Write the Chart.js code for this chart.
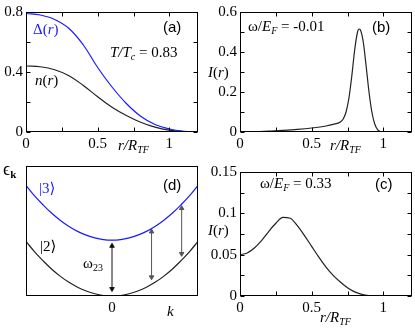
<!DOCTYPE html>
<html>
<head>
<meta charset="utf-8">
<script src="https://cdn.jsdelivr.net/npm/chart.js@4.4.1/dist/chart.umd.min.js"></script>
<style>
body { margin: 0; background: #fff; }
#fig { position: relative; width: 415px; height: 328px; overflow: hidden; }
#fig canvas { position: absolute; }
.t { position: absolute; font-family: "Liberation Serif", "Times New Roman", "DejaVu Serif", serif; font-size: 15px; color: #000; white-space: nowrap; line-height: 1; }
.i { font-style: italic; }
.s { font-family: "Liberation Sans", Arial, sans-serif; font-size: 15px; }
.blue { color: #1a1aff; }
sub { font-size: 10px; vertical-align: -3px; line-height: 0; }
</style>
</head>
<body>
<div id="fig">
  <canvas id="pa" width="208" height="160" style="left:0;top:0"></canvas>
  <canvas id="pb" width="210" height="160" style="left:205px;top:0"></canvas>
  <canvas id="pc" width="210" height="168" style="left:205px;top:160px"></canvas>
  <canvas id="pd" width="208" height="168" style="left:0;top:160px"></canvas>

  <!-- panel (a) -->
  <div class="t s" style="left:163px;top:19px">(a)</div>
  <div class="t blue" style="left:33px;top:22px">Δ(<span class="i">r</span>)</div>
  <div class="t i" style="left:110px;top:45px">T/T<sub>c</sub> <span style="font-style:normal">= 0.83</span></div>
  <div class="t" style="left:35px;top:73px"><span class="i">n</span>(<span class="i">r</span>)</div>
  <div class="t i" style="left:118px;top:138px">r/R<sub>TF</sub></div>

  <!-- panel (b) -->
  <div class="t" style="left:248px;top:19px">ω/<span class="i">E<sub>F</sub></span> = -0.01</div>
  <div class="t s" style="left:372px;top:19px">(b)</div>
  <div class="t" style="left:208px;top:65px"><span class="i">I</span>(<span class="i">r</span>)</div>
  <div class="t i" style="left:330px;top:138px">r/R<sub>TF</sub></div>

  <!-- panel (c) -->
  <div class="t" style="left:260px;top:176px">ω/<span class="i">E<sub>F</sub></span> = 0.33</div>
  <div class="t s" style="left:375px;top:176px">(c)</div>
  <div class="t" style="left:208px;top:223px"><span class="i">I</span>(<span class="i">r</span>)</div>
  <div class="t i" style="left:320px;top:310px">r/R<sub>TF</sub></div>

  <!-- panel (d) -->
  <div class="t" style="left:3px;top:160px;font-size:18px">ϵ<sub style="font-weight:bold;font-style:normal;font-size:11px">k</sub></div>
  <div class="t blue" style="left:39px;top:181px">|3⟩</div>
  <div class="t s" style="left:163px;top:177px">(d)</div>
  <div class="t" style="left:40px;top:239px">|2⟩</div>
  <div class="t" style="left:83px;top:256px">ω<sub>23</sub></div>
  <div class="t i" style="left:167px;top:304px">k</div>
</div>

<script>
// ---- data ----
// (a) gap and density profiles
const rA = [0, 0.1, 0.2, 0.3, 0.4, 0.5, 0.6, 0.7, 0.8, 0.9, 1.0, 1.1, 1.2];
const gapA = [0.79, 0.78, 0.75, 0.69, 0.58, 0.43, 0.30, 0.19, 0.105, 0.05, 0.02, 0.005, 0];
const densA = [0.44, 0.435, 0.415, 0.375, 0.31, 0.235, 0.165, 0.11, 0.065, 0.032, 0.012, 0.003, 0];

// (b) rf spectrum at w/EF = -0.01
const rB = [0, 0.1, 0.2, 0.3, 0.4, 0.5, 0.6, 0.65, 0.7, 0.72, 0.74, 0.76, 0.78, 0.8, 0.82, 0.83, 0.84, 0.86, 0.88, 0.9, 0.92, 0.94, 0.96, 0.98, 1.0, 1.2];
const intB = [0, 0.002, 0.004, 0.008, 0.013, 0.02, 0.03, 0.038, 0.05, 0.065, 0.1, 0.17, 0.28, 0.41, 0.5, 0.515, 0.51, 0.45, 0.33, 0.2, 0.1, 0.04, 0.012, 0.002, 0, 0];

// (c) rf spectrum at w/EF = 0.33
const rC = [0, 0.05, 0.1, 0.15, 0.2, 0.25, 0.3, 0.35, 0.4, 0.45, 0.5, 0.55, 0.6, 0.65, 0.7, 0.75, 0.8, 0.85, 0.9, 0.95, 1.0, 1.2];
const intC = [0.05, 0.052, 0.058, 0.067, 0.078, 0.088, 0.095, 0.094, 0.085, 0.073, 0.06, 0.047, 0.035, 0.025, 0.017, 0.01, 0.005, 0.002, 0.0005, 0, 0, 0];

// (d) band sketch
const kD = [-1, -0.9, -0.8, -0.7, -0.6, -0.5, -0.4, -0.3, -0.2, -0.1, 0, 0.1, 0.2, 0.3, 0.4, 0.5, 0.6, 0.7, 0.8, 0.9, 1];
const band2 = [0.42, 0.34, 0.27, 0.206, 0.151, 0.105, 0.067, 0.038, 0.017, 0.004, 0, 0.004, 0.017, 0.038, 0.067, 0.105, 0.151, 0.206, 0.27, 0.34, 0.42];
const band3 = [0.85, 0.77, 0.70, 0.636, 0.581, 0.535, 0.497, 0.468, 0.447, 0.434, 0.43, 0.434, 0.447, 0.468, 0.497, 0.535, 0.581, 0.636, 0.70, 0.77, 0.85];
const arrowK = [0, 0.46, 0.81];
const arrowLo = [0.055, 0.145, 0.325];
const arrowHi = [0.385, 0.495, 0.675];
const arrowCol = ['#111', '#555', '#555'];

// tick values
const xMajor = [0, 0.5, 1];
const xMinor = [0.25, 0.75];
const yTicksA = [0, 0.4, 0.8], yMinorA = [0.2, 0.6];
const yTicksB = [0, 0.2, 0.4, 0.6], yMinorB = [0.1, 0.3, 0.5];
const yTicksC = [0, 0.05, 0.1, 0.15], yMinorC = [0.025, 0.075, 0.125];

const BLUE = '#1a1aff';
const INK = '#222';

// frame + inward ticks on all four sides
const frameTicks = {
  id: 'frameTicks',
  afterDraw(chart, args, o) {
    const { ctx, chartArea: a, scales: { x, y } } = chart;
    const L = Math.round(a.left) + 0.5, R = Math.round(a.right) - 0.5;
    const T = Math.round(a.top) + 0.5, B = Math.round(a.bottom) - 0.5;
    ctx.save();
    ctx.strokeStyle = '#000';
    ctx.lineWidth = 1;
    ctx.beginPath();
    (o.xt || []).forEach(v => {
      const px = Math.round(x.getPixelForValue(v)) + 0.5;
      ctx.moveTo(px, B); ctx.lineTo(px, B - 4);
      ctx.moveTo(px, T); ctx.lineTo(px, T + 4);
    });
    (o.yt || []).forEach(v => {
      const py = Math.round(y.getPixelForValue(v)) + 0.5;
      ctx.moveTo(L, py); ctx.lineTo(L + 4, py);
      ctx.moveTo(R, py); ctx.lineTo(R - 4, py);
    });
    ctx.stroke();
    ctx.strokeRect(L, T, R - L, B - T);
    ctx.restore();
  }
};

const tickFont = { family: "'Liberation Serif', 'Times New Roman', 'DejaVu Serif', serif", size: 15 };

function makeChart(id, cfg) {
  return new Chart(document.getElementById(id), {
    type: 'line',
    data: { datasets: cfg.datasets },
    options: {
      responsive: false,
      animation: false,
      layout: { padding: { top: cfg.top, right: cfg.right, left: 0, bottom: 0 } },
      elements: { point: { radius: 0 }, line: { borderWidth: 1.2, tension: 0.4 } },
      plugins: {
        legend: { display: false },
        tooltip: { enabled: false },
        frameTicks: { xt: cfg.xt, yt: cfg.yt }
      },
      scales: {
        x: {
          type: 'linear', min: cfg.xmin, max: cfg.xmax,
          grid: { display: false, drawTicks: false },
          border: { display: false },
          afterBuildTicks: s => { s.ticks = cfg.xLabels.map(v => ({ value: v })); },
          afterFit: s => { s.height = cfg.xh; },
          ticks: { font: tickFont, color: '#000', padding: 3, maxRotation: 0, callback: v => String(v) }
        },
        y: {
          type: 'linear', min: cfg.ymin, max: cfg.ymax,
          grid: { display: false, drawTicks: false },
          border: { display: false },
          afterBuildTicks: s => { s.ticks = cfg.yLabels.map(v => ({ value: v })); },
          afterFit: s => { s.width = cfg.yw; },
          ticks: { display: cfg.yLabels.length > 0, font: tickFont, color: '#000', padding: 3, callback: v => String(v) }
        }
      }
    },
    plugins: [frameTicks]
  });
}

const pts = (xs, ys) => xs.map((v, i) => ({ x: v, y: ys[i] }));

// (a)
makeChart('pa', {
  datasets: [
    { data: pts(rA, gapA), borderColor: BLUE },
    { data: pts(rA, densA), borderColor: INK }
  ],
  xmin: 0, xmax: 1.2, ymin: 0, ymax: 0.8,
  xLabels: xMajor, yLabels: yTicksA,
  xt: xMajor.concat(xMinor), yt: yTicksA.concat(yMinorA),
  top: 9, right: 10, xh: 28, yw: 26
});

// (b)
makeChart('pb', {
  datasets: [{ data: pts(rB, intB), borderColor: INK, cubicInterpolationMode: 'monotone' }],
  xmin: 0, xmax: 1.2, ymin: 0, ymax: 0.6,
  xLabels: xMajor, yLabels: yTicksB,
  xt: xMajor.concat(xMinor), yt: yTicksB.concat(yMinorB),
  top: 9, right: 3, xh: 28, yw: 35
});

// (c)
makeChart('pc', {
  datasets: [{ data: pts(rC, intC), borderColor: INK, cubicInterpolationMode: 'monotone' }],
  xmin: 0, xmax: 1.2, ymin: 0, ymax: 0.15,
  xLabels: xMajor, yLabels: yTicksC,
  xt: xMajor.concat(xMinor), yt: yTicksC.concat(yMinorC),
  top: 5, right: 3, xh: 32, yw: 35
});

// (d)
const arrowSets = arrowK.map((k, i) => ({
  data: [{ x: k, y: arrowLo[i] }, { x: k, y: arrowHi[i] }],
  borderColor: arrowCol[i], backgroundColor: arrowCol[i], borderWidth: 1, tension: 0,
  pointStyle: 'triangle', pointRadius: 2.6, pointRotation: [180, 0]
}));
makeChart('pd', {
  datasets: [
    { data: pts(kD, band3), borderColor: BLUE },
    { data: pts(kD, band2), borderColor: INK }
  ].concat(arrowSets),
  xmin: -1, xmax: 1, ymin: 0, ymax: 1,
  xLabels: [0], yLabels: [],
  xt: [], yt: [],
  top: 6, right: 10, xh: 32, yw: 26
});
</script>
</body>
</html>
